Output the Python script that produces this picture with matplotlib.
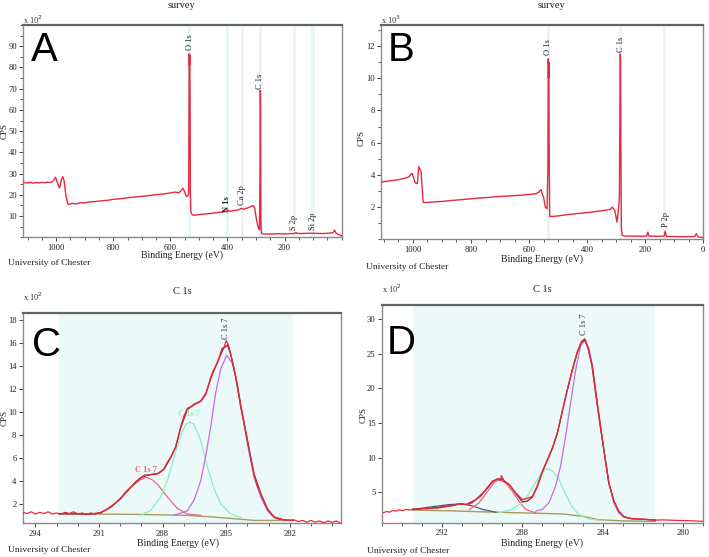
import matplotlib

matplotlib.use("Agg")

import matplotlib.pyplot as plt
from matplotlib.ticker import MultipleLocator, FixedLocator

W, H = 709, 557
SERIF = "Liberation Serif"
SANS = "Liberation Sans"

RAW_RED = "#e8283f"
ENV_RED = "#9c2a2a"
PURPLE = "#c46ee0"
GREEN = "#86efbc"
PINK = "#ec6580"
BG_OLIVE = "#a89a5c"
SLATE = "#4e5676"
SHADE = "#ecf9f9"
BAND = "#e8f7f5"

# ---- panel A: survey (CPS x 10^2) ----
a_ev = [1115, 1100, 1090, 1080, 1070, 1060, 1050, 1040, 1030, 1020, 1010, 1002,
        995, 988, 982, 977, 972, 966, 960, 955, 945, 930, 915, 900, 880, 860,
        840, 820, 800, 780, 760, 740, 720, 700, 680, 660, 640, 620, 600, 585,
        570, 562, 556, 550, 545, 540, 536, 534, 533, 532, 531, 530, 528, 524,
        515, 500, 480, 460, 440, 420, 405, 400, 395, 380, 360, 350, 345, 330,
        318, 310, 305, 298, 292, 288, 286, 285, 284, 283, 281, 278, 260, 240,
        220, 200, 180, 165, 160, 155, 140, 120, 100, 80, 60, 40, 30, 25, 20,
        10, 0]
a_cps = [25.8, 25.6, 25.9, 25.5, 25.8, 25.6, 25.9, 25.7, 26.0, 25.8, 26.5, 28.3,
         25.5, 23.2, 27.0, 28.6, 26.5, 20.0, 16.0, 15.4, 16.0, 15.7, 16.3, 16.2,
         16.7, 16.9, 17.2, 17.4, 17.9, 18.1, 18.4, 18.8, 19.0, 19.3, 19.6, 19.9,
         20.2, 20.5, 20.9, 21.3, 21.0, 22.0, 23.1, 21.5, 19.5, 19.2, 20.5, 86.4,
         81.0, 86.0, 60.0, 20.0, 12.0, 10.6, 10.4, 10.7, 11.0, 11.2, 11.6, 11.9,
         12.2, 12.9, 12.3, 12.5, 13.0, 13.7, 13.2, 13.8, 14.5, 14.9, 14.0, 8.0,
         4.5, 3.5, 30.0, 69.2, 60.0, 8.0, 2.0, 1.6, 1.5, 1.6, 1.7, 1.6, 1.7, 1.8,
         2.3, 1.8, 1.8, 1.9, 1.9, 1.8, 1.8, 2.0, 2.2, 3.4, 2.0, 1.2, 0.8]
a_bands = [532, 400, 348, 285, 165, 100]
a_labels = ["O 1s", "C 1s", "N 1s", "Ca 2p", "S 2p", "Si 2p"]
a_label_ev = [532, 285, 400, 349, 168, 100]
a_label_y = [88, 70, 12, 15, 3.4, 3.4]

# ---- panel B: survey (CPS x 10^3) ----
b_ev = [1110, 1090, 1070, 1050, 1030, 1015, 1003, 992, 985, 980, 972, 965, 955,
        930, 900, 860, 820, 780, 740, 700, 660, 620, 590, 578, 568, 559, 550,
        544, 538, 535, 534, 533, 532, 531, 529, 520, 500, 460, 420, 380, 340,
        320, 314, 305, 297, 292, 289, 286, 285, 284, 282, 279, 270, 240, 210,
        195, 191, 187, 160, 135, 131, 127, 100, 60, 30, 24, 18, 5, 0]
b_cps = [3.55, 3.6, 3.65, 3.7, 3.78, 3.86, 4.1, 3.5, 3.45, 4.5, 4.2, 2.3, 2.28,
         2.32, 2.35, 2.42, 2.48, 2.55, 2.6, 2.66, 2.7, 2.75, 2.8, 2.82, 2.9,
         3.08, 2.6, 2.0, 1.9, 4.7, 11.2, 10.0, 11.0, 6.0, 1.42, 1.42, 1.45, 1.55,
         1.62, 1.7, 1.8, 1.86, 2.0, 1.8, 1.07, 1.9, 2.6, 11.5, 11.0, 6.0, 0.6,
         0.24, 0.2, 0.2, 0.19, 0.2, 0.45, 0.2, 0.18, 0.2, 0.5, 0.18, 0.17, 0.16,
         0.17, 0.35, 0.15, 0.12, 0.1]
b_bands = [532, 285, 133]
b_labels = ["O 1s", "C 1s", "P 2p"]
b_label_ev = [534, 282, 130]
b_label_y = [11.45, 11.65, 0.76]

# ---- panel C: C 1s (CPS x 10^2) ----
c_raw_ev = [294.6, 294.4, 294.2, 294.0, 293.8, 293.6, 293.4, 293.2, 293.0, 292.8,
            292.6, 292.4, 292.2, 292.0, 291.8, 291.6, 291.4, 291.2, 291.0, 290.8,
            290.6, 290.45, 290.2, 290.0, 289.75, 289.5, 289.25, 289.04, 288.85,
            288.72, 288.5, 288.25, 288.1, 287.94, 287.78, 287.62, 287.39, 287.25,
            287.15, 287.0, 286.83, 286.7, 286.52, 286.35, 286.2, 286.1, 285.97,
            285.85, 285.73, 285.6, 285.42, 285.3, 285.2, 285.1, 285.0, 284.94,
            284.85, 284.79, 284.67, 284.55, 284.43, 284.31, 284.15, 284.0, 283.85,
            283.69, 283.55, 283.37, 283.2, 283.06, 282.9, 282.74, 282.5, 282.27,
            282.0, 281.8, 281.6, 281.4, 281.2, 281.0, 280.8, 280.6, 280.4, 280.2,
            280.0, 279.8, 279.6]
c_raw = [1.25, 1.15, 1.3, 1.1, 1.25, 1.15, 1.3, 1.1, 1.2, 1.1, 1.25, 1.15, 1.3,
         1.1, 1.2, 1.05, 1.2, 1.1, 1.2, 1.35, 1.55, 1.75, 2.1, 2.45, 3.0, 3.45,
         3.95, 4.25, 4.5, 4.45, 4.55, 4.6, 4.75, 5.0, 5.6, 6.06, 6.93, 7.9, 8.67,
         9.6, 10.3, 10.4, 10.65, 10.8, 10.95, 11.2, 11.6, 12.2, 13.0, 13.6, 14.2,
         14.9, 15.5, 15.6, 16.2, 16.0, 15.5, 15.0, 14.1, 13.0, 11.7, 10.4, 9.0,
         7.5, 6.0, 4.6, 3.6, 2.87, 2.1, 1.57, 1.15, 0.84, 0.65, 0.6, 0.55, 0.6,
         0.45, 0.55, 0.4, 0.55, 0.4, 0.5, 0.35, 0.5, 0.4, 0.5, 0.3]
c_env_ev = [292.9, 291.5, 290.93, 290.45, 289.98, 289.5, 289.04, 288.72, 288.25,
            287.94, 287.62, 287.39, 287.15, 286.83, 286.52, 286.2, 285.97, 285.73,
            285.42, 285.13, 284.94, 284.79, 284.55, 284.31, 284.0, 283.69, 283.37,
            283.06, 282.74, 282.27, 281.84]
c_env = [1.13, 1.1, 1.2, 1.7, 2.45, 3.45, 4.25, 4.5, 4.6, 5.0, 6.0, 6.9, 8.6,
         10.2, 10.6, 10.9, 11.5, 12.9, 14.3, 15.5, 15.8, 15.0, 13.0, 10.4, 7.5,
         4.6, 2.87, 1.57, 0.84, 0.6, 0.55]
c_p1_ev = [287.46, 286.83, 286.52, 286.2, 285.97, 285.73, 285.5, 285.26, 284.98,
           284.71, 284.47, 284.24, 284.0, 283.69, 283.37, 283.06, 282.74, 282.43]
c_p1 = [1.0, 1.4, 2.3, 4.0, 6.1, 8.7, 11.6, 13.7, 14.9, 14.2, 12.4, 9.8, 7.2,
        4.3, 2.6, 1.4, 0.8, 0.6]
c_p2_ev = [289.04, 288.57, 288.09, 287.78, 287.46, 287.15, 286.91, 286.72, 286.52,
           286.2, 285.89, 285.57, 285.26, 284.79, 284.31]
c_p2 = [1.0, 1.4, 2.6, 4.0, 6.1, 7.9, 8.9, 9.1, 8.9, 7.5, 5.2, 3.3, 2.0, 1.1, 0.8]
c_p3_ev = [291.4, 290.93, 290.45, 289.98, 289.5, 289.04, 288.77, 288.5, 288.25,
           287.78, 287.31, 286.83, 286.2]
c_p3 = [1.1, 1.2, 1.7, 2.45, 3.45, 4.1, 4.3, 4.1, 3.7, 2.6, 1.6, 1.1, 1.0]
c_bg_ev = [292.9, 289.04, 286.83, 285.57, 284.63, 283.69, 281.84]
c_bg = [1.13, 1.07, 0.99, 0.84, 0.7, 0.55, 0.55]

# ---- panel D: C 1s (CPS x 10^2) ----
d_raw_ev = [294.94, 294.75, 294.61, 294.45, 294.3, 294.12, 293.95, 293.8, 293.6,
            293.45, 293.2, 292.96, 292.7, 292.46, 292.2, 291.97, 291.7, 291.47,
            291.14, 290.81, 290.6, 290.48, 290.31, 290.07, 289.82, 289.49, 289.24,
            289.1, 289.04, 288.91, 288.66, 288.33, 288.0, 287.75, 287.5, 287.26,
            287.01, 286.76, 286.51, 286.26, 286.02, 285.77, 285.52, 285.27, 285.06,
            284.89, 284.73, 284.53, 284.33, 284.12, 283.9, 283.7, 283.45, 283.21,
            282.96, 282.55, 282.2, 281.88, 281.6, 281.39, 281.0, 280.56, 280.2,
            279.74, 279.4, 278.99]
d_raw = [2.0, 2.2, 2.1, 2.35, 2.25, 2.45, 2.3, 2.5, 2.4, 2.55, 2.5, 2.65, 2.6,
         2.75, 2.7, 2.85, 2.95, 3.1, 3.3, 3.2, 3.3, 3.5, 3.95, 4.4, 5.4, 6.6, 6.9,
         6.7, 7.4, 6.6, 6.1, 4.9, 3.94, 4.1, 4.4, 5.9, 8.0, 9.7, 11.4, 13.6, 16.7,
         19.8, 22.7, 25.3, 26.8, 27.2, 25.8, 23.2, 18.8, 14.5, 10.2, 6.35, 3.7,
         2.26, 1.44, 1.15, 1.1, 1.06, 1.0, 0.96, 0.98, 0.94, 0.9, 0.87, 0.83, 0.77]
d_env_ev = [293.45, 292.46, 291.47, 291.14, 290.81, 290.31, 289.82, 289.49,
            289.24, 289.04, 288.66, 288.33, 288.0, 287.75, 287.5, 287.26, 287.01,
            286.76, 286.51, 286.26, 286.02, 285.77, 285.52, 285.27, 285.06, 284.89,
            284.73, 284.53, 284.33, 284.12, 283.9, 283.7, 283.45, 283.21, 282.96,
            282.55, 281.88, 281.39]
d_env = [2.5, 2.7, 3.05, 3.3, 3.2, 3.9, 5.3, 6.5, 6.9, 6.9, 6.1, 4.8, 3.6, 3.7,
         4.3, 5.8, 7.9, 9.6, 11.3, 13.5, 16.6, 19.7, 22.6, 25.2, 26.7, 27.0, 25.8,
         23.2, 18.8, 14.5, 10.2, 6.35, 3.7, 2.26, 1.44, 1.15, 1.06, 0.96]
d_p1_ev = [287.34, 287.01, 286.68, 286.35, 286.1, 285.85, 285.6, 285.35, 285.11,
           284.89, 284.69, 284.49, 284.3, 284.1, 283.9, 283.7, 283.45, 283.21,
           282.88, 282.55]
d_p1 = [2.26, 2.5, 3.46, 5.87, 8.75, 13.1, 17.9, 22.7, 26.1, 27.0, 25.8, 22.9,
        18.6, 14.3, 10.2, 6.35, 3.46, 2.0, 1.35, 1.15]
d_p2_ev = [289.19, 288.53, 288.03, 287.7, 287.37, 287.04, 286.79, 286.55, 286.21,
           285.88, 285.55, 285.22, 284.72, 284.23]
d_p2 = [2.0, 2.5, 3.46, 4.66, 6.25, 7.88, 8.37, 8.17, 7.07, 4.9, 3.0, 1.8, 1.15,
        0.96]
d_p3_ev = [290.64, 290.15, 289.74, 289.41, 289.16, 288.83, 288.5, 288.17, 287.84,
           287.34]
d_p3 = [2.5, 3.46, 5.1, 6.4, 6.8, 6.35, 5.1, 3.7, 2.5, 2.0]
d_p4_ev = [293.45, 292.46, 291.64, 290.97, 290.48, 289.98, 289.32]
d_p4 = [2.5, 2.9, 3.2, 3.3, 3.0, 2.5, 2.1]
d_bg_ev = [293.45, 291.5, 290.0, 288.0, 286.0, 285.0, 284.2, 283.0, 281.39]
d_bg = [2.4, 2.3, 2.15, 2.0, 1.85, 1.5, 1.0, 0.85, 0.77]


def fx(px):
    return px / W


def fy(py):
    return 1 - py / H


def make_axes(fig, left, top, right, bottom):
    ax = fig.add_axes([fx(left), fy(bottom), fx(right - left), (bottom - top) / H])
    for side in ("left", "right", "bottom"):
        ax.spines[side].set_color("#8a8a8a")
        ax.spines[side].set_linewidth(1.0)
    ax.spines["top"].set_color("#606666")
    ax.spines["top"].set_linewidth(1.6)
    ax.tick_params(axis="both", which="major", direction="out", length=3,
                   width=0.7, colors="#444444", labelsize=6.2, pad=1.5)
    ax.tick_params(axis="both", which="minor", direction="out", length=2,
                   width=0.6, colors="#444444")
    ax.tick_params(axis="both", labelcolor="#222222")
    return ax


def serif_ticks(ax):
    for lab in ax.get_xticklabels() + ax.get_yticklabels():
        lab.set_fontfamily(SERIF)


def decorate(fig, title, title_xy, mult, mult_xy, xlabel_xy, cps_xy, uoc_xy,
             letter, letter_xy):
    fig.text(fx(title_xy[0]), fy(title_xy[1]), title, family=SERIF, fontsize=7.5,
             ha="center", va="center", color="#222222")
    fig.text(fx(mult_xy[0]), fy(mult_xy[1]), mult, family=SERIF, fontsize=6,
             ha="left", va="center", color="#333333")
    fig.text(fx(xlabel_xy[0]), fy(xlabel_xy[1]), "Binding Energy (eV)", family=SERIF,
             fontsize=7, ha="center", va="center", color="#222222")
    fig.text(fx(cps_xy[0]), fy(cps_xy[1]), "CPS", family=SERIF, fontsize=6.5,
             rotation=90, ha="center", va="center", color="#222222")
    fig.text(fx(uoc_xy[0]), fy(uoc_xy[1]), "University of Chester", family=SERIF,
             fontsize=6.8, ha="left", va="center", color="#222222")
    fig.text(fx(letter_xy[0]), fy(letter_xy[1]), letter, family=SANS, fontsize=29,
             ha="left", va="top", color="black")


fig = plt.figure(figsize=(W / 100, H / 100), dpi=100)
fig.patch.set_facecolor("white")

# ---- A ----
ax = make_axes(fig, 23.3, 25, 341.7, 237.3)
for e in a_bands:
    ax.axvspan(e - 6, e + 6, color=BAND, lw=0, zorder=0)
ax.plot(a_ev, a_cps, color=RAW_RED, lw=1.0, zorder=3)
for lab, e, y in zip(a_labels, a_label_ev, a_label_y):
    ax.text(e, y, lab, rotation=90, ha="center", va="bottom", family=SERIF,
            fontsize=6, color="#222222", weight="bold" if lab == "N 1s" else "normal")
ax.set_xlim(1115, 0)
ax.set_ylim(0, 100)
ax.xaxis.set_major_locator(FixedLocator([1000, 800, 600, 400, 200]))
ax.xaxis.set_minor_locator(MultipleLocator(50))
ax.yaxis.set_major_locator(FixedLocator([10, 20, 30, 40, 50, 60, 70, 80, 90]))
ax.yaxis.set_minor_locator(MultipleLocator(5))
serif_ticks(ax)
decorate(fig, "survey", (181, 6), "x 10$^2$", (23, 20), (182, 255), (5, 131),
         (8, 263), "A", (31, 31))

# ---- B ----
ax = make_axes(fig, 381, 25, 703.3, 239.3)
for e in b_bands:
    ax.axvspan(e - 5, e + 5, color=BAND, lw=0, zorder=0)
ax.plot(b_ev, b_cps, color=RAW_RED, lw=1.0, zorder=3)
for lab, e, y in zip(b_labels, b_label_ev, b_label_y):
    ax.text(e, y, lab, rotation=90, ha="center", va="bottom", family=SERIF,
            fontsize=6, color="#222222")
ax.set_xlim(1110, 0)
ax.set_ylim(0, 13.3)
ax.xaxis.set_major_locator(FixedLocator([1000, 800, 600, 400, 200, 0]))
ax.xaxis.set_minor_locator(MultipleLocator(50))
ax.yaxis.set_major_locator(FixedLocator([2, 4, 6, 8, 10, 12]))
ax.yaxis.set_minor_locator(MultipleLocator(1))
serif_ticks(ax)
decorate(fig, "survey", (552, 6), "x 10$^3$", (381, 20), (542, 259), (362, 138),
         (366, 267), "B", (388, 31))

# ---- C ----
ax = make_axes(fig, 22.7, 313.3, 340.7, 523.3)
ax.axvspan(281.84, 292.9, color=SHADE, lw=0, zorder=0)
ax.plot(c_bg_ev, c_bg, color=BG_OLIVE, lw=1.0, zorder=2)
ax.plot(c_p3_ev, c_p3, color=PINK, lw=0.9, zorder=2)
ax.plot(c_p2_ev, c_p2, color=GREEN, lw=0.9, zorder=2)
ax.plot(c_p1_ev, c_p1, color=PURPLE, lw=0.9, zorder=2)
ax.plot(c_env_ev, c_env, color=ENV_RED, lw=1.0, zorder=3)
ax.plot(c_raw_ev, c_raw, color=RAW_RED, lw=0.9, zorder=4)
ax.text(285.0, 16.3, "C 1s 7", rotation=90, ha="center", va="bottom",
        family=SERIF, fontsize=6, color="#333333")
ax.text(286.76, 9.8, "C 1s 7", ha="center", va="center", family=SERIF,
        fontsize=6, color=GREEN, weight="bold")
ax.text(288.77, 4.9, "C 1s 7", ha="center", va="center", family=SERIF,
        fontsize=6, color=PINK, weight="bold")
ax.set_xlim(294.6, 279.6)
ax.set_ylim(0.3, 18.55)
ax.xaxis.set_major_locator(FixedLocator([294, 291, 288, 285, 282]))
ax.xaxis.set_minor_locator(MultipleLocator(1))
ax.yaxis.set_major_locator(FixedLocator([2, 4, 6, 8, 10, 12, 14, 16, 18]))
serif_ticks(ax)
decorate(fig, "C 1s", (182, 292), "x 10$^2$", (23, 297), (178, 543), (5, 418),
         (8, 550), "C", (32, 326))

# ---- D ----
ax = make_axes(fig, 381.7, 305, 703.3, 522.7)
ax.axvspan(281.39, 293.45, color=SHADE, lw=0, zorder=0)
ax.plot(d_bg_ev, d_bg, color=BG_OLIVE, lw=1.0, zorder=2)
ax.plot(d_p4_ev, d_p4, color=SLATE, lw=0.9, zorder=2)
ax.plot(d_p3_ev, d_p3, color=PINK, lw=0.9, zorder=2)
ax.plot(d_p2_ev, d_p2, color=GREEN, lw=0.9, zorder=2)
ax.plot(d_p1_ev, d_p1, color=PURPLE, lw=0.9, zorder=2)
ax.plot(d_env_ev, d_env, color=ENV_RED, lw=1.0, zorder=3)
ax.plot(d_raw_ev, d_raw, color=RAW_RED, lw=0.9, zorder=4)
ax.text(284.94, 27.8, "C 1s 7", rotation=90, ha="center", va="bottom",
        family=SERIF, fontsize=6, color="#333333")
ax.set_xlim(295.0, 279.0)
ax.set_ylim(0.58, 32.07)
ax.xaxis.set_major_locator(FixedLocator([292, 288, 284, 280]))
ax.xaxis.set_minor_locator(MultipleLocator(1))
ax.yaxis.set_major_locator(FixedLocator([5, 10, 15, 20, 25, 30]))
serif_ticks(ax)
decorate(fig, "C 1s", (542, 290), "x 10$^2$", (382, 289), (542, 543), (364, 415),
         (367, 551), "D", (387, 324))

fig.savefig("out.png", dpi=100, facecolor="white")
